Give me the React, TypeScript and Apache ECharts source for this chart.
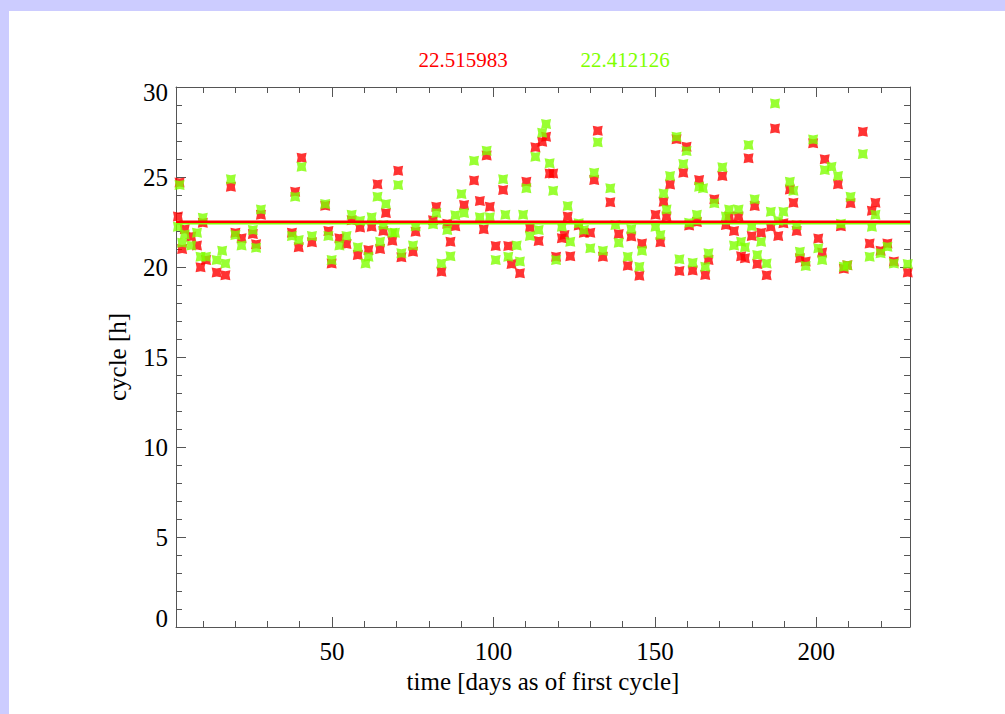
import React, { useEffect, useRef } from "react";
import * as echarts from "echarts";

// ---- data ----
const DAYS = [
  2.3, 2.8, 3.6, 4.4, 6.4, 8.2, 9.3, 10, 11, 14.3, 16, 17, 18.7, 20.1, 22, 25.5, 26.5, 28,
  37.6, 38.6, 39.7, 40.6, 43.8, 47.9, 48.9, 49.9, 52.3, 54.5, 56.1, 58, 58.7, 60.4, 61.3, 62.3,
  64.1, 64.9, 65.9, 66.7, 68.7, 69.5, 70.5, 71.5, 75.1, 75.9, 81.3, 82.3, 83.9, 85.7, 86.7, 88.2,
  90.1, 90.9, 94, 95.8, 97, 97.9, 98.9, 100.7, 103, 103.7, 104.6, 105.6, 107.2, 108.2, 109.2,
  110.2, 111.3, 113, 114, 115.1, 116.3, 117.4, 118.5, 119.4, 121.2, 122, 123, 123.8, 126.4, 128,
  130, 131.2, 132.3, 133.9, 136.2, 137.8, 138.8, 141.6, 142.7, 145.2, 146, 150.2, 151.7, 152.7,
  153.6, 154.7, 156.7, 157.6, 158.8, 159.8, 160.6, 161.7, 163, 163.7, 164.9, 165.6, 166.6, 168.4,
  170.9, 172, 173, 174.5, 175.9, 176.7, 177.9, 179, 180, 180.9, 181.7, 182.9, 184.6, 185.9, 187.2,
  188.2, 189.8, 191.8, 192.9, 193.9, 194.9, 196.7, 199, 200.6, 201.8, 202.6, 204.7, 206.7, 207.6,
  208.5, 209.6, 210.6, 214.4, 216.5, 217.2, 218.3, 219.9, 222, 224, 228.3,
];
const RED_CYCLE = [
  22.8, 24.7, 21.0, 22.1, 21.7, 21.2, 19.98, 22.46, 20.39, 19.7, null, 19.54, 24.46, 21.9, 21.6, 21.83, 21.26, 22.9,
  21.9, 24.18, 21.1, 26.07, 21.37, 23.4, 22.0, 20.2, 21.6, 21.28, 22.6, 20.67, 22.2, null, 20.94, 22.24,
  24.6, 21.0, 22.0, 23.0, 21.46, null, 25.35, 20.54, 20.85, 21.96, 22.6, 23.35, 19.74, 22.4, 21.4, 22.27,
  null, 23.44, 24.8, 23.67, 22.1, 26.2, 23.35, 21.17, 24.28, null, 21.17, 20.17, null, 19.65, null,
  24.74, 22.2, 26.65, 21.44, 26.96, 27.24, 25.2, 25.2, 20.57, 21.6, 21.78, 22.8, 20.6, 22.3, 21.9,
  21.9, 24.83, 27.57, 20.57, 23.6, null, 21.83, 20.07, 21.7, 19.52, 21.3, 22.9, 21.37, 23.63,
  22.8, 24.59, 27.1, 19.78, 25.24, 26.68, 22.3, 19.8, 22.5, 24.83, null, 19.56, 20.39, 23.76,
  25.06, 22.33, 22.8, 22.0, 22.8, 20.6, 20.48, 26.04, 21.72, 23.39, 20.17, 21.9, 19.54, 22.24, 27.7,
  21.72, 22.43, 24.31, 23.57, 22.0, 20.48, 20.3, 26.87, 21.59, 20.8, 25.98, null, 24.6, 22.27,
  19.9, 20.1, 23.54, 27.52, 21.31, 23.13, 23.57, 20.9, 21.3, 20.3, 19.7,
];
const GREEN_CYCLE = [
  22.24, 24.55, 21.35, 21.8, 21.2, 21.9, 20.57, 22.74, 20.57, 20.39, 20.9, 20.2, 24.87, 21.78, 21.2, 22.06, 21.07, 23.2,
  21.72, 23.9, 21.5, 25.57, 21.72, 23.5, 21.72, 20.39, 21.2, 21.72, 22.9, 21.1, 22.57, 20.2, 20.57, 22.76,
  23.9, 21.4, 22.33, 23.5, 21.9, 21.9, 24.55, 20.76, 21.2, 22.27, 22.38, 23.0, 20.2, 22.06, 20.6, 22.87,
  24.05, 23.0, 25.9, 22.76, null, 26.46, 22.76, 20.39, 24.87, 22.9, 20.57, null, 21.2, 20.3, 22.9,
  24.37, 21.72, 26.13, 22.06, 27.46, 27.94, 25.76, 24.24, 20.39, 22.24, null, 23.39, 21.4, 22.43, 22.06,
  21.04, 25.24, 26.93, 20.9, 24.37, 22.33, 21.35, 20.57, 22.1, 20.02, 20.9, 22.24, 21.78, 24.09,
  23.2, 25.06, 27.24, 20.43, 25.72, 26.44, 22.46, 20.24, 22.9, 24.46, 24.37, 20.02, 20.76, 23.54,
  25.54, 22.8, 23.2, 21.2, 23.2, 21.4, 21.1, 26.78, 22.27, 23.76, 20.67, 21.4, 20.2, 23.07, 29.09,
  22.57, 23.07, 24.74, 24.24, 22.33, 20.85, 20.06, 27.09, 21.04, 20.39, 25.39, 25.57, 25.06, 22.4,
  20.02, 20.1, 23.9, 26.28, 20.57, 22.24, 22.9, 20.76, 21.13, 20.2, 20.17,
];
const MEAN_RED = 22.515983;
const MEAN_GREEN = 22.412126;

const X_MIN = 1.7;
const X_MAX = 229;
const X_MAJOR = [50, 100, 150, 200];
const X_MINOR = [10, 20, 30, 40, 60, 70, 80, 90, 110, 120, 130, 140, 160, 170, 180, 190, 210, 220];
const Y_MIN = 0;
const Y_MAX = 30;
const Y_STEP = 5;

const X_TITLE = "time [days as of first cycle]";
const Y_TITLE = "cycle [h]";

const RED = "#ff0000";
const GREEN = "#80ff00";
const AXIS = "#555555";
const FONT = "'Liberation Serif', 'DejaVu Serif', serif";
const FS = 25;
const MARK = "path://M0,0L5,1L10,0L9,5L10,10L5,9L0,10L1,5Z";

export default function App() {
  const ref = useRef<HTMLDivElement>(null);

  useEffect(() => {
    if (!ref.current) return;
    const chart = echarts.init(ref.current, null, { renderer: "svg" });

    const redData = DAYS.map((d, i) => (RED_CYCLE[i] == null ? null : [d, RED_CYCLE[i]])).filter(Boolean);
    const greenData = DAYS.map((d, i) => (GREEN_CYCLE[i] == null ? null : [d, GREEN_CYCLE[i]])).filter(Boolean);

    const xBase = (position: string, ticks: number[], len: number, showLine: boolean, labels: boolean) => ({
      type: "value",
      position,
      min: X_MIN,
      max: X_MAX,
      axisLine: { show: showLine, lineStyle: { color: AXIS, width: 1 } },
      axisTick: { show: true, inside: true, length: len, customValues: ticks, lineStyle: { color: AXIS } },
      axisLabel: labels
        ? { show: true, customValues: X_MAJOR, margin: 12, color: "#000", fontSize: FS, fontFamily: FONT }
        : { show: false },
      splitLine: { show: false },
    });

    const yBase = (position: string, labels: boolean) => ({
      type: "value",
      position,
      min: Y_MIN,
      max: Y_MAX,
      interval: Y_STEP,
      axisLine: { show: true, lineStyle: { color: AXIS, width: 1 } },
      axisTick: { show: true, inside: true, length: 10, lineStyle: { color: AXIS } },
      minorTick: { show: true, splitNumber: 5, length: 6, lineStyle: { color: AXIS } },
      splitLine: { show: false },
      axisLabel: labels
        ? {
            show: true,
            margin: 8,
            formatter: (v: number) => (v === Y_MIN ? `{lo|${v}}` : v === Y_MAX ? `{hi|${v}}` : `{n|${v}}`),
            rich: {
              n: { fontSize: FS, fontFamily: FONT, color: "#000" },
              lo: { fontSize: FS, fontFamily: FONT, color: "#000", padding: [0, 0, 18, 0] },
              hi: { fontSize: FS, fontFamily: FONT, color: "#000", padding: [10, 0, 0, 0] },
            },
          }
        : { show: false },
      ...(labels
        ? {
            name: Y_TITLE,
            nameLocation: "middle",
            nameGap: 46,
            nameRotate: 90,
            nameTextStyle: { fontSize: FS, fontFamily: FONT, color: "#000" },
          }
        : {}),
    });

    const mainX: any = xBase("bottom", X_MAJOR, 10, true, true);
    mainX.name = X_TITLE;
    mainX.nameLocation = "middle";
    mainX.nameGap = 42;
    mainX.nameTextStyle = { fontSize: FS, fontFamily: FONT, color: "#000" };

    chart.setOption({
      animation: false,
      backgroundColor: "#ffffff",
      grid: { left: 167, top: 76, right: 95, bottom: 87, containLabel: false },
      xAxis: [
        mainX,
        xBase("bottom", X_MINOR, 6, false, false),
        xBase("top", X_MAJOR, 10, true, false),
        xBase("top", X_MINOR, 6, false, false),
      ],
      yAxis: [yBase("left", true), yBase("right", false)],
      graphic: [
        {
          type: "text",
          x: 454,
          y: 49,
          style: {
            text: MEAN_RED.toFixed(6),
            fill: RED,
            font: `21px ${FONT}`,
            textAlign: "center",
            textVerticalAlign: "middle",
          },
        },
        {
          type: "text",
          x: 616,
          y: 49,
          style: {
            text: MEAN_GREEN.toFixed(6),
            fill: GREEN,
            font: `21px ${FONT}`,
            textAlign: "center",
            textVerticalAlign: "middle",
          },
        },
      ],
      series: [
        {
          type: "scatter",
          data: redData,
          symbol: MARK,
          symbolSize: 10,
          itemStyle: { color: RED },
          z: 2,
          clip: true,
        },
        {
          type: "scatter",
          data: greenData,
          symbol: MARK,
          symbolSize: 10,
          itemStyle: { color: GREEN },
          z: 3,
          clip: true,
        },
        {
          type: "line",
          data: [
            [X_MIN, MEAN_GREEN],
            [X_MAX, MEAN_GREEN],
          ],
          symbol: "none",
          lineStyle: { color: GREEN, width: 2 },
          z: 4,
        },
        {
          type: "line",
          data: [
            [X_MIN, MEAN_RED],
            [X_MAX, MEAN_RED],
          ],
          symbol: "none",
          lineStyle: { color: RED, width: 2.5 },
          z: 5,
        },
      ],
    });

    return () => chart.dispose();
  }, []);

  return (
    <div style={{ position: "fixed", left: 0, top: 0, width: 1005, height: 714, background: "#ccccff" }}>
      <div
        ref={ref}
        style={{ position: "absolute", left: 9, top: 11, width: 996, height: 703, background: "#ffffff" }}
      />
    </div>
  );
}
